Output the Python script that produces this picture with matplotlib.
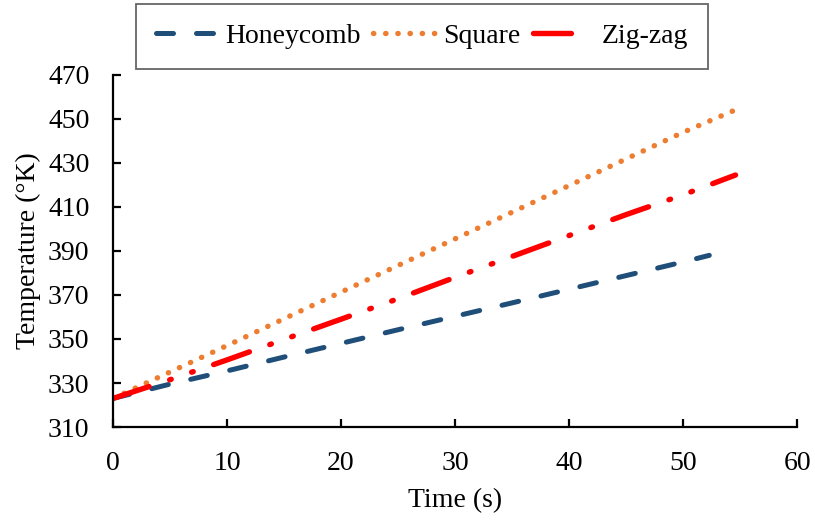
import matplotlib
matplotlib.use("Agg")
import matplotlib.pyplot as plt
from matplotlib.legend_handler import HandlerLine2D

plt.rcParams['font.family'] = ['Liberation Serif', 'DejaVu Serif']

# Data
time_honeycomb = [0, 5, 10, 15, 20, 25, 30, 35, 40, 45, 50, 52.3]
temp_honeycomb = [323, 329.5, 335.5, 341.8, 348, 354.2, 360.3, 366.4, 372.6, 378.8, 385, 388]

time_square = [0, 5, 10, 15, 20, 25, 30, 35, 40, 45, 50, 55]
temp_square = [323, 335, 347, 359.2, 371.3, 383.4, 395.5, 407.6, 419.7, 431.8, 443.9, 455]

time_zigzag = [0, 5, 10, 15, 20, 25, 30, 35, 40, 45, 50, 54.6]
temp_zigzag = [323, 331.5, 340.5, 349.8, 359, 368.3, 378, 387.5, 397, 406.5, 415.5, 424.5]

labels = ["Honeycomb", "Square", "Zig-zag"]
xticks = [0, 10, 20, 30, 40, 50, 60]
yticks = [310, 330, 350, 370, 390, 410, 430, 450, 470]

FS = 20

fig = plt.figure(figsize=(8.15, 5.2), dpi=100)
ax = fig.add_axes([0.1387, 0.1788, 0.8393, 0.6772])

l1, = ax.plot(time_honeycomb, temp_honeycomb, color='#1F4E79', lw=3.6,
              linestyle=(0, (3.4, 4.6)), dash_capstyle='round', label=labels[0])
l2, = ax.plot(time_square, temp_square, color='#ED7D31', lw=3.9,
              linestyle=(0, (0.05, 2.2)), dash_capstyle='round', label=labels[1])
l3, = ax.plot(time_zigzag, temp_zigzag, color='#FF0000', lw=3.9,
              linestyle=(0, (7.0, 4.0, 0.3, 4.0, 0.3, 4.0)), dash_capstyle='round', label=labels[2])

ax.set_xlim(0, 60)
ax.set_ylim(310, 470)
ax.set_xticks(xticks)
ax.set_yticks(yticks)
for s in ['top', 'right']:
    ax.spines[s].set_visible(False)
for s in ['left', 'bottom']:
    ax.spines[s].set_linewidth(1.6)
ax.tick_params(axis='both', direction='in', length=6, width=1.6, labelsize=FS)
ax.tick_params(axis='x', pad=17)
ax.tick_params(axis='y', pad=17)

ax.set_xlabel("Time (s)", fontsize=FS, labelpad=9)
ax.set_ylabel("Temperature (°K)", fontsize=FS, labelpad=5)


def zig_handle(handle, orig):
    handle.update_from(orig)
    handle.set_linestyle((0, (7.0, 10.0)))


leg = fig.legend(handles=[l1, l2, l3], labels=labels, loc='center',
                 bbox_to_anchor=(0.518, 0.930), ncol=3, fontsize=FS,
                 frameon=True, fancybox=False, edgecolor='#404040',
                 handlelength=2.3, handletextpad=0.2, columnspacing=0.45,
                 borderpad=0.7, borderaxespad=0,
                 handler_map={l3: HandlerLine2D(update_func=zig_handle)})
leg.get_frame().set_linewidth(1.3)

fig.savefig("out.png", dpi=100)
